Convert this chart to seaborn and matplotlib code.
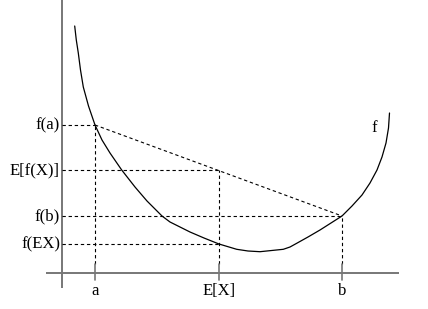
import matplotlib
matplotlib.use("Agg")
import matplotlib.pyplot as plt
import seaborn as sns
import pandas as pd

# Curve f (data units)
curve_x = [1.27, 1.43, 1.63, 1.85, 2.13, 2.65, 3.3, 4.0, 4.8, 5.97, 7.3, 8.5, 10.0,
           10.8, 12.8, 14.2, 15.7, 17.47, 18.6, 19.8, 22.13, 22.8, 23.47, 24.6, 25.8,
           28.0, 29.0, 30.0, 30.8, 31.5, 32.0, 32.4, 32.65, 32.75]
curve_y = [24.7, 23.3, 22.0, 20.3, 18.6, 16.7, 14.8, 13.3, 12.0, 10.3, 8.6, 7.2, 5.7,
           5.1, 4.1, 3.5, 2.9, 2.37, 2.2, 2.13, 2.37, 2.6, 2.97, 3.6, 4.3,
           5.7, 6.7, 7.8, 9.0, 10.3, 11.6, 13.0, 14.5, 16.0]

# Key points
x_names = ["a", "E[X]", "b"]
x_vals = [3.3, 15.7, 28.0]
y_names = ["f(a)", "E[f(X)]", "f(b)", "f(EX)"]
y_vals = [14.8, 10.3, 5.7, 2.9]
# x position where each horizontal guide ends
y_guide_end = [3.3, 15.7, 28.0, 15.7]
# top of each vertical guide
x_guide_top = [14.8, 10.3, 5.7]

sns.set_theme(style="white")
plt.rcParams['font.family'] = ['Liberation Serif', 'DejaVu Serif']

fig = plt.figure(figsize=(4.28, 3.09), dpi=100)
ax = fig.add_axes([0, 0, 1, 1])

# axes lines
axis_col = "#777777"
ax.plot([-1.6, 33.7], [0, 0], color=axis_col, lw=1.4, solid_capstyle="butt")
ax.plot([0, 0], [-1.5, 27.5], color=axis_col, lw=1.4, solid_capstyle="butt")

dash = (0, (3, 2.5))
# horizontal guides
for yv, xe in zip(y_vals, y_guide_end):
    ax.plot([0, xe], [yv, yv], color="black", lw=0.8, linestyle=dash)
# vertical guides + ticks
for xv, yt in zip(x_vals, x_guide_top):
    ax.plot([xv, xv], [0.9, yt], color="black", lw=0.8, linestyle=dash)
    ax.plot([xv, xv], [-0.7, 0.9], color=axis_col, lw=1.2)
# chord
ax.plot([x_vals[0], x_vals[2]], [y_vals[0], y_vals[2]], color="black", lw=0.8, linestyle=dash)

# curve
df = pd.DataFrame({"x": curve_x, "y": curve_y})
sns.lineplot(data=df, x="x", y="y", sort=False, color="black", lw=0.9, ax=ax,
             solid_joinstyle="round")
ax.set_xlim(-6.2, 36.6)
ax.set_ylim(-3.6, 27.3)
ax.axis("off")

fs = 12
for name, yv in zip(y_names, y_vals):
    ax.text(-0.2, yv, name, ha="right", va="center", fontsize=fs, color="black")
for name, xv in zip(x_names, x_vals):
    ax.text(xv, -2.2, name, ha="center", va="baseline", fontsize=fs, color="black")
ax.text(31.2, 14.5, "f", ha="center", va="center", fontsize=fs, color="black")

fig.savefig("out.png", dpi=100)
